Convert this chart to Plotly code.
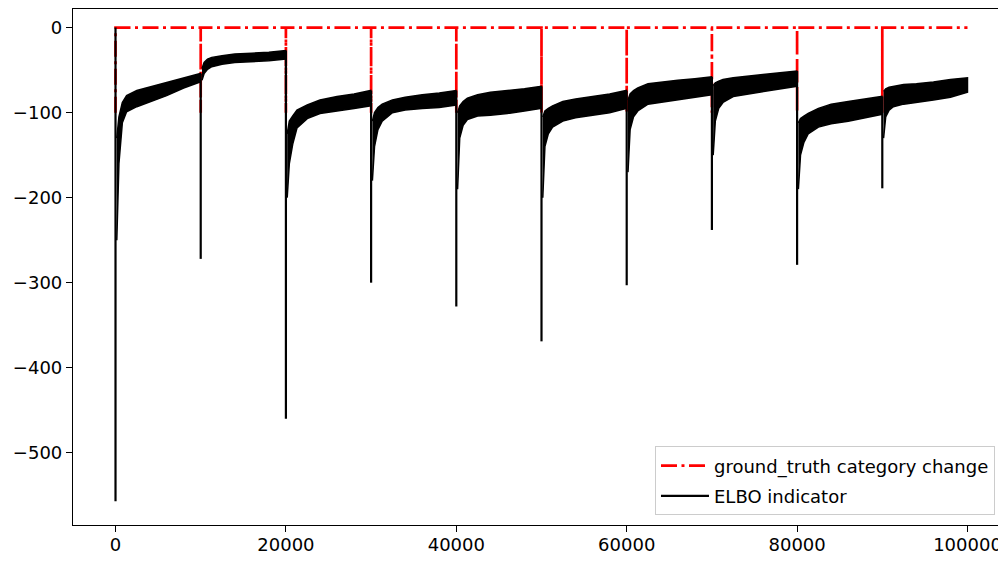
import plotly.graph_objects as go

# ---------------------------------------------------------------------------
# change points of the ground truth category (every 10000 steps)
CHANGE_POINTS = [0, 10000, 20000, 30000, 40000, 50000, 60000, 70000, 80000, 90000]
END_STEP = 100000
GT_LEVEL = 0
GT_CHANGE = -100

# ELBO: depth of the drop at every change point
SPIKE_MIN = [-557, -272, -460, -300, -328, -369, -303, -238, -279, -189]

# ELBO noisy band, read as upper / lower envelope at offsets after each change
OFFSETS = [150, 400, 800, 1300, 2500, 4000, 6000, 8000, 9950]
BAND_UPPER = [
    [-130, -105, -88, -80, -74, -70, -65, -59, -54],
    [-48, -41, -37, -35, -33, -31, -30, -29, -27],
    [-125, -110, -104, -97, -91, -85, -81, -78, -74],
    [-110, -100, -94, -90, -85, -82, -79, -77, -74],
    [-100, -92, -87, -83, -79, -76, -74, -72, -69],
    [-105, -98, -95, -92, -87, -84, -81, -78, -74],
    [-85, -78, -74, -71, -66, -64, -62, -60, -58],
    [-68, -65, -63, -61, -59, -57, -55, -53, -51],
    [-112, -107, -104, -101, -95, -90, -87, -84, -81],
    [-75, -72, -70, -69, -67, -66, -64, -61, -59],
]
BAND_LOWER = [
    [-250, -160, -112, -99, -93, -87, -80, -71, -64],
    [-62, -54, -49, -46, -43, -41, -40, -39, -37],
    [-200, -160, -137, -118, -107, -101, -98, -95, -92],
    [-180, -140, -120, -110, -100, -97, -95, -94, -91],
    [-190, -130, -115, -108, -104, -103, -101, -98, -95],
    [-200, -140, -125, -117, -110, -106, -103, -100, -95],
    [-170, -120, -105, -98, -90, -88, -85, -82, -79],
    [-150, -110, -95, -88, -81, -78, -75, -72, -69],
    [-190, -150, -135, -125, -117, -113, -110, -106, -102],
    [-130, -105, -97, -93, -90, -88, -85, -82, -76],
]

Y_TICKS = [0, -100, -200, -300, -400, -500]
X_TICKS = [0, 20000, 40000, 60000, 80000, 100000]

FONT = "DejaVu Sans"
# ---------------------------------------------------------------------------


def ground_truth_xy():
    xs, ys = [], []
    for cp in CHANGE_POINTS:
        if cp > 0:
            xs.append(cp - 1)
            ys.append(GT_LEVEL)
        xs += [cp, cp + 1]
        ys += [GT_CHANGE, GT_LEVEL]
    xs.append(END_STEP)
    ys.append(GT_LEVEL)
    return xs, ys


def band_xy():
    xs, ys = [], []
    for i, cp in enumerate(CHANGE_POINTS):
        offs = list(OFFSETS)
        if i == len(CHANGE_POINTS) - 1:
            offs[-1] = END_STEP - cp
        up = BAND_UPPER[i]
        lo = BAND_LOWER[i]
        xs += [cp + o for o in offs] + [cp + o for o in reversed(offs)] + [None]
        ys += list(up) + list(reversed(lo)) + [None]
    return xs, ys


def spike_xy():
    xs, ys = [], []
    for i, cp in enumerate(CHANGE_POINTS):
        top = GT_LEVEL if i == 0 else BAND_UPPER[i - 1][-1]
        xs += [cp, cp, None]
        ys += [top, SPIKE_MIN[i], None]
    return xs, ys


fig = go.Figure()

gx, gy = ground_truth_xy()
fig.add_trace(go.Scatter(
    x=gx, y=gy, mode="lines",
    name="ground_truth category change",
    line=dict(color="#ff0000", width=2.7, dash="16px,4.5px,3px,4.5px"),
    legendgroup="gt",
))

bx, by = band_xy()
fig.add_trace(go.Scatter(
    x=bx, y=by, mode="lines", fill="toself",
    fillcolor="black", line=dict(color="black", width=1.5),
    showlegend=False, hoverinfo="skip",
))

sx, sy = spike_xy()
fig.add_trace(go.Scatter(
    x=sx, y=sy, mode="lines",
    name="ELBO indicator",
    line=dict(color="black", width=2.2),
    legendgroup="elbo",
))

axis_common = dict(
    showgrid=False, zeroline=False,
    showline=True, linecolor="black", linewidth=1.2,
    ticks="outside", ticklen=6, tickwidth=1.2, tickcolor="black",
    tickfont=dict(family=FONT, size=18, color="black"),
)

# the page body adds an 8px margin, so keep the figure inside the window
fig.update_xaxes(range=[-4990, 104520], tickvals=X_TICKS, tickformat="d",
                 mirror=True, ticklabelstandoff=-3, **axis_common)
fig.update_yaxes(range=[-585, 21.9], tickvals=Y_TICKS, **axis_common)

fig.update_layout(
    width=998, height=547,
    margin=dict(l=65, r=0, t=1, b=28),
    plot_bgcolor="white", paper_bgcolor="white",
    font=dict(family=FONT, size=18, color="black"),
    legend=dict(
        x=0.9882, y=0.0187, xanchor="right", yanchor="bottom",
        bgcolor="rgba(255,255,255,0.8)", bordercolor="#cccccc", borderwidth=1,
        font=dict(family=FONT, size=18, color="black"),
        tracegroupgap=4, itemwidth=48,
    ),
)

fig.write_html("out.html")
